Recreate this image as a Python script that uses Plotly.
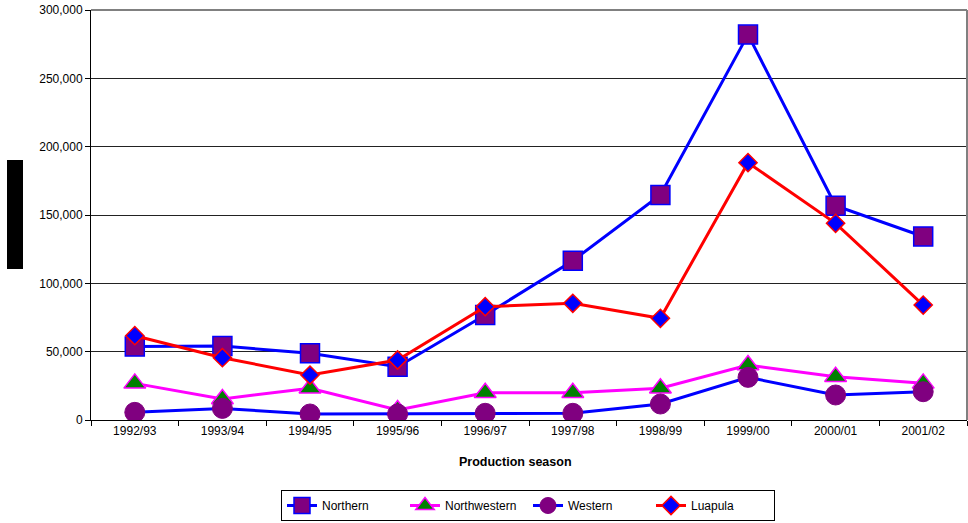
import plotly.graph_objects as go

seasons = ["1992/93", "1993/94", "1994/95", "1995/96", "1996/97",
           "1997/98", "1998/99", "1999/00", "2000/01", "2001/02"]
northern = [53700, 54100, 48800, 39000, 76800, 116600, 164600, 282000, 156800, 134300]
northwestern = [26800, 15400, 23200, 7300, 20000, 20000, 23200, 40200, 31700, 26800]
western = [5600, 8500, 4400, 4400, 4900, 4900, 11700, 31200, 18300, 20700]
luapula = [61700, 45600, 32900, 43900, 82900, 85400, 74400, 188300, 143900, 84100]
y_ticks = [0, 50000, 100000, 150000, 200000, 250000, 300000]

FONT = "Arial, Liberation Sans, sans-serif"

fig = go.Figure()
fig.add_trace(go.Scatter(
    x=seasons, y=northern, name="Northern", mode="lines+markers",
    line=dict(color="#0000FF", width=3),
    marker=dict(symbol="square", size=19, color="#800080",
                line=dict(color="#0000FF", width=1.5))))
fig.add_trace(go.Scatter(
    x=seasons, y=northwestern, name="Northwestern", mode="lines+markers",
    line=dict(color="#FF00FF", width=3),
    marker=dict(symbol="triangle-up", size=19, color="#008000",
                line=dict(color="#FF00FF", width=1.5))))
fig.add_trace(go.Scatter(
    x=seasons, y=western, name="Western", mode="lines+markers",
    line=dict(color="#0000FF", width=3),
    marker=dict(symbol="circle", size=20, color="#800080",
                line=dict(color="#800080", width=1))))
fig.add_trace(go.Scatter(
    x=seasons, y=luapula, name="Luapula", mode="lines+markers",
    line=dict(color="#FF0000", width=3),
    marker=dict(symbol="diamond", size=14, color="#0000FF",
                line=dict(color="#FF0000", width=1.5))))

fig.update_layout(
    width=968, height=523,
    margin=dict(l=91, r=1, t=10, b=103, autoexpand=False),
    paper_bgcolor="white", plot_bgcolor="white",
    font=dict(family=FONT, size=12, color="black"),
    showlegend=True,
    legend=dict(orientation="h", x=(528 - 91) / 876, xanchor="center",
                y=(420 - 490) / 410, yanchor="top",
                bordercolor="black", borderwidth=1, font=dict(size=12),
                entrywidth=78, tracegroupgap=0),
    xaxis=dict(type="category", range=[-0.5, 9.5], tickson="boundaries",
               ticks="outside", ticklen=5, tickcolor="black",
               showline=True, linecolor="black", linewidth=1,
               showgrid=False, tickfont=dict(size=12)),
    yaxis=dict(range=[0, 300000], tickvals=y_ticks,
               tickformat=",", ticks="outside", ticklen=5, tickcolor="black",
               showline=True, linecolor="black", linewidth=1,
               showgrid=True, gridcolor="#222222", gridwidth=1,
               tickfont=dict(size=12), zeroline=False),
    annotations=[
        dict(text="<b>Production season</b>", xref="paper", yref="paper",
             x=(515 - 91) / 876, y=(420 - 462) / 410, xanchor="center", yanchor="middle",
             showarrow=False, font=dict(size=12.5)),
    ],
    shapes=[
        dict(type="line", xref="paper", yref="paper", x0=0, x1=1, y0=1, y1=1,
             line=dict(color="#808080", width=2), layer="above"),
        dict(type="line", xref="paper", yref="paper", x0=1, x1=1, y0=0, y1=1,
             line=dict(color="#808080", width=2), layer="above"),
        dict(type="rect", xref="paper", yref="paper",
             x0=(7 - 91) / 876, x1=(23 - 91) / 876,
             y0=(420 - 269) / 410, y1=(420 - 160) / 410,
             fillcolor="black", line=dict(width=0)),
    ],
)

fig.write_html("out.html")
